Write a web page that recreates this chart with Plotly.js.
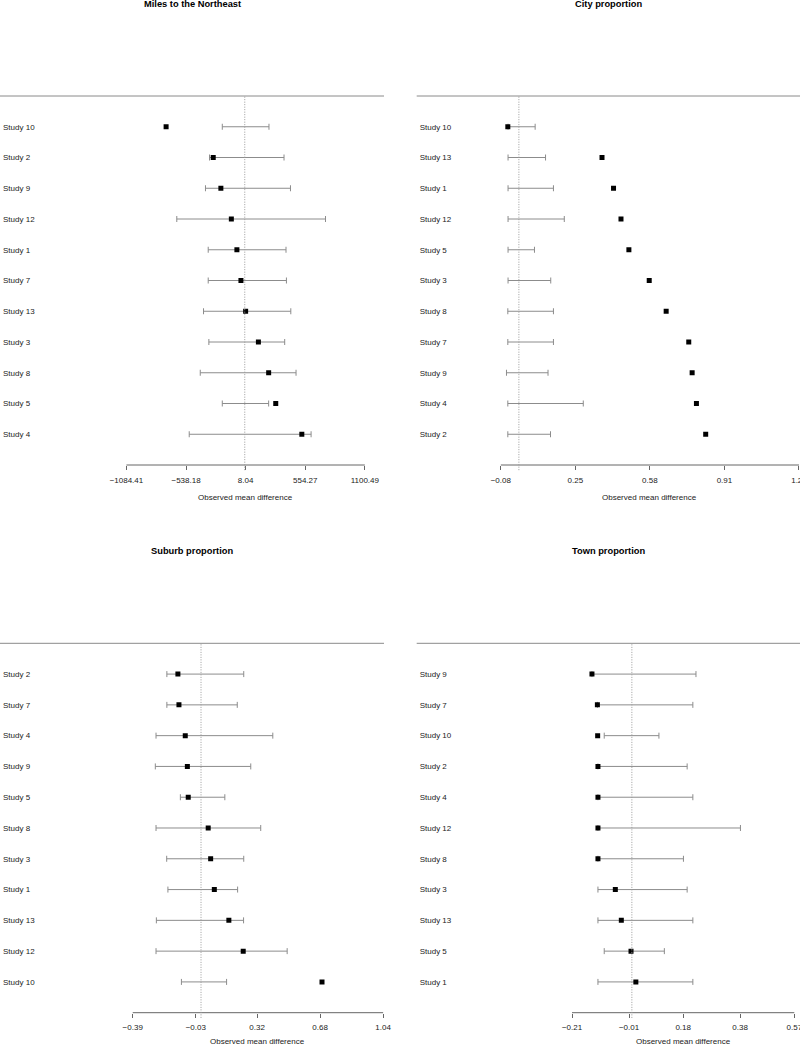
<!DOCTYPE html>
<html>
<head>
<meta charset="utf-8">
<script src="https://cdn.plot.ly/plotly-3.0.1.min.js"></script>
<style>
  html, body { margin: 0; padding: 0; background: #fff; }
  #plot { width: 800px; height: 1045px; }
</style>
</head>
<body>
<div id="plot"></div>
<script>
// Miles to the Northeast
const milesStudies = ["Study 10", "Study 2", "Study 9", "Study 12", "Study 1", "Study 7", "Study 13", "Study 3", "Study 8", "Study 5", "Study 4"];
const milesDiff = [-721, -289, -219, -123, -72, -35, 8, 125, 219, 284, 523];
const milesLo = [-206, -323, -360, -623, -335, -335, -378, -329, -408, -206, -509];
const milesHi = [222, 360, 419, 740, 378, 382, 422, 366, 470, 219, 608];
const milesTicks = [-1084.41, -538.18, 8.04, 554.27, 1100.49];

// City proportion
const cityStudies = ["Study 10", "Study 13", "Study 1", "Study 12", "Study 5", "Study 3", "Study 8", "Study 7", "Study 9", "Study 4", "Study 2"];
const cityDiff = [-0.049, 0.368, 0.419, 0.452, 0.487, 0.577, 0.652, 0.752, 0.767, 0.786, 0.827];
const cityLo = [-0.048, -0.048, -0.048, -0.048, -0.048, -0.048, -0.049, -0.049, -0.055, -0.049, -0.049];
const cityHi = [0.072, 0.118, 0.153, 0.201, 0.069, 0.141, 0.153, 0.153, 0.129, 0.285, 0.140];
const cityTicks = [-0.08, 0.25, 0.58, 0.91, 1.24];

// Suburb proportion
const suburbStudies = ["Study 2", "Study 7", "Study 4", "Study 9", "Study 5", "Study 8", "Study 3", "Study 1", "Study 13", "Study 12", "Study 10"];
const suburbDiff = [-0.132, -0.126, -0.090, -0.078, -0.073, 0.041, 0.055, 0.076, 0.159, 0.241, 0.691];
const suburbLo = [-0.195, -0.195, -0.257, -0.261, -0.118, -0.257, -0.196, -0.189, -0.255, -0.257, -0.112];
const suburbHi = [0.244, 0.207, 0.410, 0.284, 0.136, 0.341, 0.244, 0.209, 0.243, 0.492, 0.146];
const suburbTicks = [-0.39, -0.03, 0.32, 0.68, 1.04];

// Town proportion
const townStudies = ["Study 9", "Study 7", "Study 10", "Study 2", "Study 4", "Study 12", "Study 8", "Study 3", "Study 13", "Study 5", "Study 1"];
const townDiff = [-0.140, -0.121, -0.120, -0.119, -0.119, -0.119, -0.119, -0.058, -0.037, -0.003, 0.014];
const townLo = [-0.140, -0.121, -0.097, -0.119, -0.119, -0.119, -0.119, -0.119, -0.119, -0.097, -0.119];
const townHi = [0.225, 0.214, 0.095, 0.194, 0.214, 0.381, 0.181, 0.194, 0.214, 0.114, 0.214];
const townTicks = [-0.21, -0.01, 0.18, 0.38, 0.57];

const FONT = "Liberation Sans, Arial, Helvetica, sans-serif";
const W = 800, H = 1045;
const GREY = "#8a8a8a";

function fmtTick(v) {
  return v.toFixed(2).replace("-", "\u2212");
}

// pixel box of each panel: [left, right, top line, axis line], plus x range
const panels = [
  { title: "Miles to the Northeast", studies: milesStudies, diff: milesDiff, lo: milesLo, hi: milesHi, ticks: milesTicks,
    px: [0, 384, 96, 465], range: [-2243.5, 1276.3], titleY: 4, labY: 497 },
  { title: "City proportion", studies: cityStudies, diff: cityDiff, lo: cityLo, hi: cityHi, ticks: cityTicks,
    px: [416.7, 800, 96, 465], range: [-0.4524, 1.2445], titleY: 4, labY: 497 },
  { title: "Suburb proportion", studies: suburbStudies, diff: suburbDiff, lo: suburbLo, hi: suburbHi, ticks: suburbTicks,
    px: [0, 384, 643.3, 1012.7], range: [-1.148, 1.045], titleY: 551, labY: 1041 },
  { title: "Town proportion", studies: townStudies, diff: townDiff, lo: townLo, hi: townHi, ticks: townTicks,
    px: [416.7, 800, 643.3, 1012.7], range: [-0.755, 0.59], titleY: 551, labY: 1041 }
];

const traces = [];
const shapes = [];
const annotations = [];
const layout = {
  width: W, height: H,
  margin: { l: 0, r: 0, t: 0, b: 0 },
  paper_bgcolor: "#fff",
  plot_bgcolor: "rgba(0,0,0,0)",
  showlegend: false,
  font: { family: FONT, size: 8, color: "#222" }
};

panels.forEach((p, i) => {
  const n = i === 0 ? "" : String(i + 1);
  const xa = "x" + n, ya = "y" + n;
  const [left, right, top, bottom] = p.px;

  layout["xaxis" + n] = {
    domain: [left / W, right / W],
    anchor: ya,
    range: p.range,
    tickvals: p.ticks,
    ticktext: p.ticks.map(fmtTick),
    ticks: "outside", ticklen: 4, tickwidth: 1, tickcolor: "#666",
    ticklabelstandoff: 3,
    ticklabeloverflow: "allow",
    tickfont: { family: FONT, size: 8, color: "#222" },
    showgrid: false, zeroline: false, showline: false, fixedrange: true
  };
  layout["yaxis" + n] = {
    domain: [1 - bottom / H, 1 - top / H],
    anchor: xa,
    type: "category",
    categoryorder: "array",
    categoryarray: p.studies,
    range: [p.studies.length, -1],
    ticks: "", ticklabelposition: "inside",
    tickfont: { family: FONT, size: 8, color: "#222" },
    showgrid: false, zeroline: false, showline: false, fixedrange: true
  };

  // interval with caps
  const mid = p.lo.map((l, j) => (l + p.hi[j]) / 2);
  const half = p.lo.map((l, j) => (p.hi[j] - l) / 2);
  traces.push({
    type: "scatter", mode: "markers",
    x: mid, y: p.studies, xaxis: xa, yaxis: ya,
    marker: { size: 1, opacity: 0 },
    error_x: { type: "data", array: half, symmetric: true, color: "#8c8c8c", thickness: 1, width: 3 },
    hoverinfo: "skip"
  });

  // observed mean difference
  traces.push({
    type: "scatter", mode: "markers",
    x: p.diff, y: p.studies, xaxis: xa, yaxis: ya,
    marker: { symbol: "square", size: 5, color: "#000" }
  });

  // top rule
  shapes.push({ type: "line", xref: xa + " domain", yref: ya + " domain", x0: 0, x1: 1, y0: 1, y1: 1,
    line: { color: GREY, width: 1 } });
  // axis line from first to last tick
  shapes.push({ type: "line", xref: xa, yref: ya + " domain", x0: p.ticks[0], x1: p.ticks[p.ticks.length - 1], y0: 0, y1: 0,
    line: { color: "#666", width: 1 } });
  // reference line at zero
  shapes.push({ type: "line", xref: xa, yref: ya + " domain", x0: 0, x1: 0, y0: -0.014, y1: 1,
    line: { color: "#9a9a9a", width: 1, dash: "1px,1.5px" } });

  annotations.push({
    text: "<b>" + p.title + "</b>", xref: xa + " domain", x: 0.5, yref: "paper", y: 1 - p.titleY / H,
    xanchor: "center", yanchor: "middle", showarrow: false,
    font: { family: FONT, size: 9.3, color: "#000" }
  });
  annotations.push({
    text: "Observed mean difference", xref: xa, x: (p.ticks[0] + p.ticks[p.ticks.length - 1]) / 2,
    yref: "paper", y: 1 - p.labY / H,
    xanchor: "center", yanchor: "middle", showarrow: false,
    font: { family: FONT, size: 8, color: "#222" }
  });
});

layout.shapes = shapes;
layout.annotations = annotations;

Plotly.newPlot("plot", traces, layout, { displayModeBar: false, staticPlot: true });
</script>
</body>
</html>
